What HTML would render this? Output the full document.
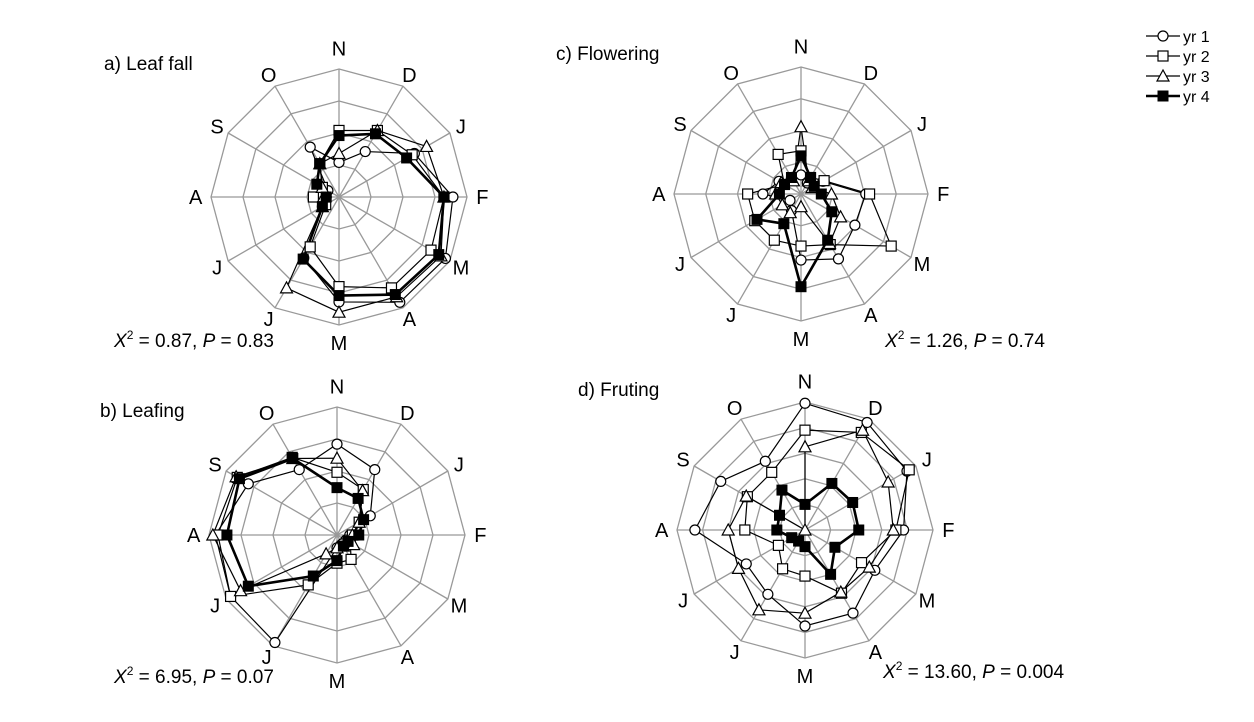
<!DOCTYPE html>
<html><head><meta charset="utf-8"><style>
body{margin:0;background:#fff;}
svg{display:block;font-family:"Liberation Sans",Arial,sans-serif;}
</style></head><body>
<svg id="s" width="1254" height="722" viewBox="0 0 1254 722" xmlns="http://www.w3.org/2000/svg">
<text x="104" y="70" font-size="19">a) Leaf fall</text>
<text x="556" y="60" font-size="19">c) Flowering</text>
<text x="100" y="417" font-size="19">b) Leafing</text>
<text x="578" y="396" font-size="19">d) Fruting</text>
<text x="114" y="347" font-size="19"><tspan font-style="italic">X</tspan><tspan font-size="12" dy="-8">2</tspan><tspan dy="8"> = 0.87, </tspan><tspan font-style="italic">P</tspan> = 0.83</text>
<text x="885" y="347" font-size="19"><tspan font-style="italic">X</tspan><tspan font-size="12" dy="-8">2</tspan><tspan dy="8"> = 1.26, </tspan><tspan font-style="italic">P</tspan> = 0.74</text>
<text x="114" y="683" font-size="19"><tspan font-style="italic">X</tspan><tspan font-size="12" dy="-8">2</tspan><tspan dy="8"> = 6.95, </tspan><tspan font-style="italic">P</tspan> = 0.07</text>
<text x="883" y="678" font-size="19"><tspan font-style="italic">X</tspan><tspan font-size="12" dy="-8">2</tspan><tspan dy="8"> = 13.60, </tspan><tspan font-style="italic">P</tspan> = 0.004</text>
</svg>
<script>
var NS="http://www.w3.org/2000/svg",S=document.getElementById('s');
function el(t,a,p){var e=document.createElementNS(NS,t);for(var k in a)e.setAttribute(k,a[k]);(p||S).appendChild(e);return e;}
var M=["N","D","J","F","M","A","M","J","J","A","S","O"];
function mk(type,x,y,g){
 if(type==0)el('circle',{cx:x,cy:y,r:5,fill:'#fff',stroke:'#000','stroke-width':1.2},g);
 else if(type==1)el('rect',{x:x-5,y:y-5,width:10,height:10,fill:'#fff',stroke:'#000','stroke-width':1.2},g);
 else if(type==2)el('polygon',{points:(x)+','+(y-6)+' '+(x-6)+','+(y+5)+' '+(x+6)+','+(y+5),fill:'#fff',stroke:'#000','stroke-width':1.2},g);
 else el('rect',{x:x-5,y:y-5,width:10,height:10,fill:'#000',stroke:'#000'},g);
}
function chart(cx,cy,R,rings,data){
 var pt=function(i,r){var a=i*Math.PI/6;return [cx+R*r*Math.sin(a),cy-R*r*Math.cos(a)];};
 for(var k=1;k<=rings;k++){var p=[];for(var i=0;i<12;i++)p.push(pt(i,k/rings).join(','));
  el('polygon',{points:p.join(' '),fill:'none',stroke:'#999','stroke-width':1.3});}
 for(var i=0;i<12;i++){var q=pt(i,1);el('line',{x1:cx,y1:cy,x2:q[0],y2:q[1],stroke:'#999','stroke-width':1.3});
  var lr=i==0?1.16:(i==6?1.14:((i==3||i==9)?1.12:1.1));
  var l=pt(i,lr);var t=el('text',{x:l[0],y:l[1]+7,'font-size':20,'text-anchor':'middle'});t.textContent=M[i];}
 for(var s=0;s<4;s++){var p=[];for(var i=0;i<12;i++)p.push(pt(i,data[s][i]));
  el('polygon',{points:p.map(function(a){return a.join(',')}).join(' '),fill:'none',stroke:'#000','stroke-width':s==3?2.6:1.2});}
 for(var s=0;s<4;s++)for(var i=0;i<12;i++){var q=pt(i,data[s][i]);mk(s,q[0],q[1]);}
}
chart(339,197,128,4,[
 [0.27,0.41,0.68,0.89,0.96,0.95,0.82,0.55,0.15,0.1,0.1,0.45],
 [0.52,0.6,0.66,0.82,0.83,0.82,0.7,0.45,0.12,0.2,0.15,0.3],
 [0.34,0.6,0.79,0.82,0.92,0.9,0.9,0.82,0.15,0.12,0.15,0.3],
 [0.48,0.57,0.61,0.82,0.9,0.88,0.77,0.56,0.15,0.1,0.2,0.3]]);
chart(801,194,127,4,[
 [0.15,0.1,0.2,0.51,0.49,0.59,0.52,0.15,0.1,0.3,0.2,0.15],
 [0.34,0.15,0.21,0.54,0.82,0.46,0.41,0.42,0.42,0.42,0.15,0.36],
 [0.53,0.12,0.1,0.24,0.36,0.45,0.1,0.17,0.17,0.2,0.18,0.12],
 [0.3,0.15,0.12,0.16,0.28,0.42,0.73,0.27,0.4,0.17,0.15,0.15]]);
chart(337,535,128,4,[
 [0.71,0.59,0.3,0.1,0.08,0.08,0.1,0.97,0.96,0.95,0.8,0.59],
 [0.49,0.41,0.2,0.12,0.12,0.22,0.22,0.45,0.96,0.93,0.9,0.7],
 [0.6,0.4,0.2,0.12,0.15,0.1,0.1,0.17,0.87,0.97,0.91,0.69],
 [0.37,0.33,0.24,0.17,0.1,0.1,0.2,0.37,0.8,0.86,0.88,0.69]]);
chart(805,530,128,5,[
 [0.99,0.97,0.92,0.77,0.63,0.75,0.75,0.58,0.53,0.86,0.76,0.62],
 [0.78,0.88,0.94,0.71,0.51,0.57,0.36,0.35,0.24,0.47,0.52,0.52],
 [0.65,0.9,0.75,0.69,0.58,0.56,0.65,0.72,0.6,0.6,0.53,0.0],
 [0.2,0.42,0.43,0.42,0.27,0.4,0.13,0.1,0.12,0.22,0.23,0.36]]);
var ys=[36,56,76,96];
for(var s=0;s<4;s++){el('line',{x1:1146,y1:ys[s],x2:1180,y2:ys[s],stroke:'#000','stroke-width':s==3?2.6:1.2});
 mk(s,1163,ys[s]);var t=el('text',{x:1183,y:ys[s]+6,'font-size':16});t.textContent='yr '+(s+1);}
</script>
</body></html>
